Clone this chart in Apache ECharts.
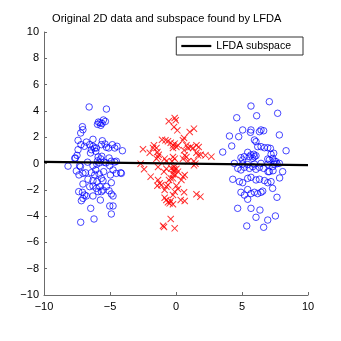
<!DOCTYPE html>
<html>
<head>
<meta charset="utf-8">
<script src="https://cdn.jsdelivr.net/npm/echarts@6/dist/echarts.min.js"></script>
<style>
  html, body { margin: 0; padding: 0; background: #fff; }
  #chart { width: 341px; height: 341px; }
</style>
</head>
<body>
<div id="chart"></div>
<script>
// Class 1: left cluster (blue circles)
const classLeft = [
  [-6.58,4.30],[-5.27,4.14],[-5.50,3.31],[-5.88,3.15],[-5.60,3.05],[-5.95,2.98],[-5.35,3.20],[-5.70,2.90],[-5.75,3.10],
  [-7.09,2.80],[-7.05,2.57],[-7.22,2.32],[-7.42,1.76],[-6.29,1.84],[-6.79,1.63],[-6.94,1.31],[-7.20,1.43],
  [-5.58,1.73],[-5.65,1.43],[-5.38,1.48],[-5.27,1.23],[-5.10,1.18],[-4.82,1.43],[-4.47,1.31],[-4.06,0.97],[-4.64,1.18],
  [-6.54,1.43],[-6.29,1.31],[-6.16,1.18],[-6.03,1.18],[-6.41,1.05],[-6.48,0.80],[-6.08,0.93],
  [-7.42,1.05],[-7.62,0.42],[-7.50,0.62],[-7.67,0.39],
  [-5.90,0.50],[-5.70,0.35],[-5.95,0.20],[-5.62,0.55],[-5.80,0.05],
  [-5.07,0.42],[-4.64,0.11],[-4.52,0.17],[-4.90,0.17],[-5.30,0.05],[-5.45,0.10],
  [-8.18,-0.20],[-7.30,-0.17],[-6.29,-0.17],[-5.02,-0.17],[-6.70,0.10],[-6.00,-0.05],
  [-7.55,-0.57],[-7.24,-0.24],[-7.05,-0.75],[-7.35,-0.87],[-6.86,-0.70],
  [-6.41,-0.70],[-6.08,-0.49],[-6.16,-0.87],[-5.83,-0.80],[-5.48,-0.62],[-5.65,-1.13],[-4.97,-0.87],[-4.52,-0.75],[-4.14,-0.75],[-4.77,-0.49],[-4.19,-0.70],
  [-7.05,-1.56],[-6.67,-1.20],[-6.29,-1.31],[-5.98,-1.38],[-5.53,-1.31],[-4.90,-1.46],
  [-6.54,-1.76],[-6.29,-1.71],[-6.03,-1.89],[-5.78,-1.76],[-5.53,-2.02],[-5.27,-1.76],[-5.65,-2.14],[-5.90,-2.14],[-5.07,-2.07],
  [-7.37,-2.14],[-7.09,-2.19],[-6.92,-2.40],[-7.05,-2.65],[-7.17,-2.83],[-6.79,-2.47],
  [-6.29,-2.47],[-5.73,-2.78],[-4.90,-2.32],[-4.77,-2.47],
  [-6.46,-3.41],[-5.02,-3.23],[-4.77,-3.23],[-4.90,-3.84],[-6.21,-4.22],[-7.22,-4.47]
];

// Class 2: middle cluster (red crosses)
const classMiddle = [
  [-0.10,3.46],[-0.02,3.29],[-0.55,3.21],[-0.15,2.78],[0.10,2.52],[1.36,2.65],[1.04,2.40],[0.61,1.94],[0.53,1.76],
  [-1.06,1.81],[-0.80,1.76],[-0.61,1.69],[-0.40,1.58],[-0.23,1.38],[-0.10,1.51],[0.03,1.25],[0.15,1.38],[-0.23,1.18],
  [-1.67,1.38],[-1.48,1.18],[-1.74,1.18],[-2.50,1.08],[-1.99,0.82],[-1.41,0.87],[-1.31,0.67],
  [0.79,1.38],[0.91,1.18],[1.11,1.25],[1.55,1.38],[1.72,1.25],[1.29,1.18],
  [0.61,1.00],[0.66,0.62],[0.79,0.49],[0.53,0.37],
  [1.55,0.82],[1.67,0.62],[1.87,0.67],[2.23,0.62],[2.68,0.52],
  [-1.48,0.37],[-1.36,0.49],[-0.86,0.37],[-0.73,0.17],[-0.23,0.49],[-0.10,0.37],[-0.30,0.17],[-0.15,-0.27],[0.03,-0.40],[-0.15,-0.44],
  [0.91,0.17],[1.36,0.17],[1.47,-0.01],[1.36,-0.14],
  [-2.68,-0.01],[-2.42,-0.44],[-1.36,-0.27],[-0.73,-0.40],
  [-1.92,-1.00],[-1.36,-1.25],[-1.24,-1.51],[-1.41,-1.69],[-1.11,-1.63],
  [-0.91,-0.62],[-0.35,-0.37],[-0.15,-0.57],[-0.23,-0.82],[-0.05,-0.87],[-0.40,-1.13],[-0.53,-1.25],[-0.23,-1.13],[0.15,-0.62],
  [0.53,-1.00],[0.66,-0.87],[0.41,-1.25],
  [-0.86,-2.02],[-0.61,-1.63],[-0.73,-1.76],
  [0.03,-1.69],[0.15,-1.94],[-0.10,-2.14],[-0.23,-2.40],[0.61,-2.19],[1.55,-2.34],[1.85,-2.52],
  [-0.86,-2.60],[-0.73,-2.78],[-0.61,-2.95],[-0.40,-2.85],[-0.23,-3.10],[-0.48,-3.03],[0.36,-2.78],[0.66,-2.85],
  [-0.40,-4.22],[-0.98,-4.73],[-0.91,-4.83],[-0.10,-4.93]
];

// Class 1: right cluster (blue circles)
const classRight = [
  [7.07,4.70],[5.68,4.37],[7.70,3.82],[6.11,3.63],[4.60,3.48],
  [5.05,2.55],[5.68,2.55],[5.64,2.37],[6.32,2.42],[6.44,2.55],[6.64,2.49],[4.05,2.09],[4.75,2.04],[7.83,2.17],
  [5.94,1.79],[6.06,1.66],[4.22,1.33],[6.19,1.28],[6.44,1.28],[6.70,1.20],[6.95,1.20],[7.15,1.15],[8.34,0.97],
  [5.43,0.85],[5.68,0.65],[5.89,0.70],[5.56,0.52],[5.94,0.52],[5.81,0.39],[6.06,0.59],
  [4.92,0.44],[5.18,0.52],[5.05,0.27],[3.54,0.87],
  [7.20,0.70],[7.40,0.78],[7.33,0.39],[6.95,0.34],[7.07,0.27],[7.45,0.19],[7.58,0.14],
  [4.42,0.01],[6.44,0.01],[7.45,-0.05],[7.83,0.01],
  [5.05,-0.04],[5.43,-0.08],[5.94,-0.04],[6.95,-0.06],[7.65,-0.02],
  [4.68,-0.37],[4.92,-0.49],[5.18,-0.29],[5.56,-0.37],[5.81,-0.24],[6.06,-0.44],[6.32,-0.29],[6.64,-0.37],[7.07,-0.62],[7.32,-0.24],[8.08,-0.62],
  [6.97,-0.62],[7.35,-0.55],
  [4.30,-1.20],[4.80,-1.38],[5.05,-1.46],[5.43,-1.13],[5.68,-1.05],[6.06,-1.25],[6.32,-1.20],[6.70,-1.30],[6.95,-1.46],[7.20,-1.38],[7.85,-1.10],
  [4.92,-2.19],[5.18,-2.40],[5.43,-1.98],[5.68,-2.29],[5.94,-2.19],[6.19,-2.29],[6.44,-2.19],[6.57,-2.10],[5.43,-2.72],
  [7.32,-1.89],[7.65,-2.57],
  [4.67,-3.41],[5.68,-3.41],[6.36,-3.54],[6.06,-4.09],[6.95,-4.30],[7.53,-3.99],[5.36,-4.75],[6.64,-4.85]
];

// Embedding direction found by LFDA, drawn across the x range
const subspaceLine = [[-10, 0.12], [10, -0.12]];

const axisRange = { min: -10, max: 10 };
const xTickStep = 5;
const yTickStep = 2;

const minusFmt = v => String(v).replace('-', '\u2212');
const axisColor = '#6b6b6b';
const fontFamily = 'Liberation Sans, Arial, sans-serif';

const chart = echarts.init(document.getElementById('chart'), null, { renderer: 'canvas' });

chart.setOption({
  animation: false,
  backgroundColor: '#ffffff',
  title: {
    text: 'Original 2D data and subspace found by LFDA',
    left: 52,
    top: 13,
    padding: 0,
    textStyle: { fontSize: 11.1, fontWeight: 'normal', color: '#000', fontFamily }
  },
  legend: {
    data: [{ name: 'LFDA subspace', icon: 'rect' }],
    right: 38,
    top: 37,
    orient: 'vertical',
    backgroundColor: '#fff',
    borderColor: '#333',
    borderWidth: 1,
    borderRadius: 0,
    padding: [3, 12, 3, 5],
    itemWidth: 30,
    itemHeight: 2.2,
    itemGap: 0,
    textStyle: { fontSize: 10.5, color: '#000', fontFamily, lineHeight: 12 }
  },
  grid: {
    left: 44, right: 33, top: 32, bottom: 46,
    outerBoundsMode: 'none'
  },
  xAxis: {
    type: 'value',
    min: axisRange.min, max: axisRange.max, interval: xTickStep,
    axisLine: { show: true, onZero: false, lineStyle: { color: axisColor, width: 1 } },
    axisTick: { show: true, inside: true, length: 3, lineStyle: { color: axisColor } },
    splitLine: { show: false },
    axisLabel: { color: '#000', fontSize: 11, margin: 6, fontFamily, formatter: minusFmt }
  },
  yAxis: {
    type: 'value',
    min: axisRange.min, max: axisRange.max, interval: yTickStep,
    axisLine: { show: true, onZero: false, lineStyle: { color: axisColor, width: 1 } },
    axisTick: { show: true, inside: true, length: 3, lineStyle: { color: axisColor } },
    splitLine: { show: false },
    axisLabel: { color: '#000', fontSize: 11, margin: 5, fontFamily, formatter: minusFmt }
  },
  series: [
    {
      name: 'class1-left', type: 'scatter', data: classLeft,
      symbol: 'circle', symbolSize: 6.5,
      itemStyle: { color: 'rgba(0,0,0,0)', borderColor: '#0000ff', borderWidth: 0.9 },
      z: 2
    },
    {
      name: 'class1-right', type: 'scatter', data: classRight,
      symbol: 'circle', symbolSize: 6.5,
      itemStyle: { color: 'rgba(0,0,0,0)', borderColor: '#0000ff', borderWidth: 0.9 },
      z: 2
    },
    {
      name: 'class2', type: 'scatter', data: classMiddle,
      symbol: 'path://M0,0L10,10M10,0L0,10', symbolSize: 6.3,
      itemStyle: { color: 'rgba(0,0,0,0)', borderColor: '#ff0000', borderWidth: 1 },
      z: 2
    },
    {
      name: 'LFDA subspace', type: 'line', data: subspaceLine,
      symbol: 'none', showSymbol: false,
      lineStyle: { color: '#000', width: 2.2 },
      itemStyle: { color: '#000' },
      z: 3
    }
  ]
});
</script>
</body>
</html>
